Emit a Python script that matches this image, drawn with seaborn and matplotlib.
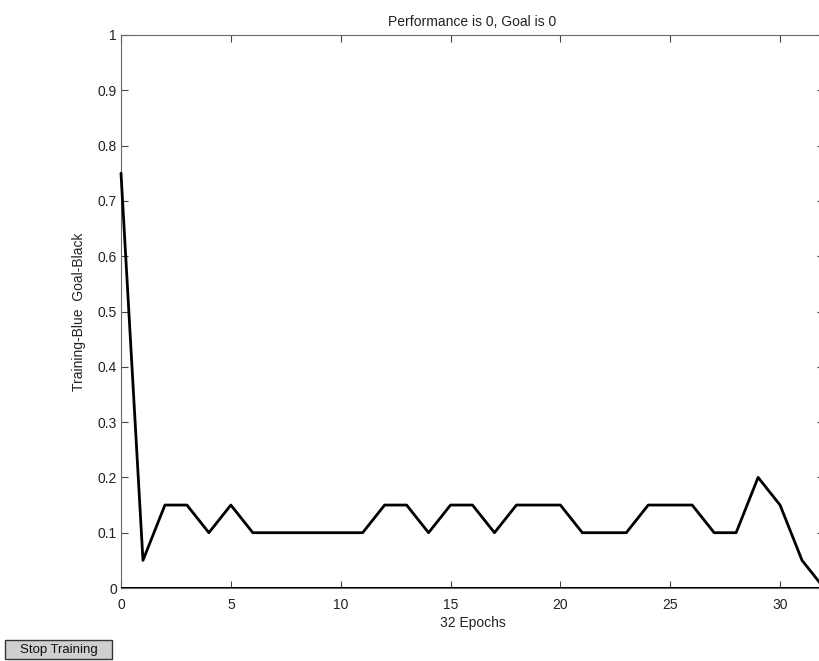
import matplotlib
matplotlib.use("Agg")
import matplotlib.pyplot as plt
from matplotlib.patches import Rectangle
import seaborn as sns
import pandas as pd

# Training performance per epoch
epochs = list(range(0, 33))
performance = [0.75, 0.05, 0.15, 0.15, 0.10, 0.15, 0.10, 0.10, 0.10, 0.10,
               0.10, 0.10, 0.15, 0.15, 0.10, 0.15, 0.15, 0.10, 0.15, 0.15,
               0.15, 0.10, 0.10, 0.10, 0.15, 0.15, 0.15, 0.10, 0.10, 0.20,
               0.15, 0.05, 0.00]
goal = 0.0
x_ticks = [0, 5, 10, 15, 20, 25, 30]
y_ticks = [0, 0.1, 0.2, 0.3, 0.4, 0.5, 0.6, 0.7, 0.8, 0.9, 1]
y_tick_labels = ["0", "0.1", "0.2", "0.3", "0.4", "0.5", "0.6", "0.7", "0.8", "0.9", "1"]

sns.set_style("white")
plt.rcParams["font.family"] = ["Liberation Sans", "DejaVu Sans"]

df = pd.DataFrame({"epoch": epochs, "perf": performance})

W, H = 819, 661
fig = plt.figure(figsize=(W / 100, H / 100), dpi=100)
ax = fig.add_axes([121 / W, 73 / H, 703 / W, 553 / H])

# goal line
ax.axhline(goal, color="black", lw=2.2, zorder=3)
sns.lineplot(data=df, x="epoch", y="perf", ax=ax, color="black", lw=2.0,
             zorder=4, clip_on=False)

ax.set_xlim(0, 32)
ax.set_ylim(0, 1)
ax.set_xticks(x_ticks)
ax.set_xticklabels([str(t) for t in x_ticks])
ax.set_yticks(y_ticks)
ax.set_yticklabels(y_tick_labels)
ax.tick_params(direction="in", length=5, width=0.8, color="#444",
               labelsize=10, labelcolor="#222", top=True, right=True,
               bottom=True, left=True)
ax.tick_params(axis="x", pad=7)
ax.tick_params(axis="y", pad=3)
for s in ax.spines.values():
    s.set_color("#666")
    s.set_linewidth(0.8)
    s.set_visible(True)

ax.set_title("Performance is 0, Goal is 0", fontsize=10, color="#222", pad=6.5)
ax.set_xlabel("32 Epochs", fontsize=10, color="#222", labelpad=3)
ax.set_ylabel("Training-Blue  Goal-Black", fontsize=10, color="#222", labelpad=8)

# control button
bx0, by0, bw, bh = 5, 640, 107, 19
fig.patches.append(Rectangle((bx0 / W, 1 - (by0 + bh) / H), bw / W, bh / H,
                             transform=fig.transFigure, fc="#cfcfcf",
                             ec="#333", lw=1.0))
fig.text((bx0 + bw / 2) / W, 1 - (by0 + bh / 2) / H, "Stop Training",
         fontsize=9.5, color="#111", ha="center", va="center")

fig.savefig("out.png", dpi=100)
